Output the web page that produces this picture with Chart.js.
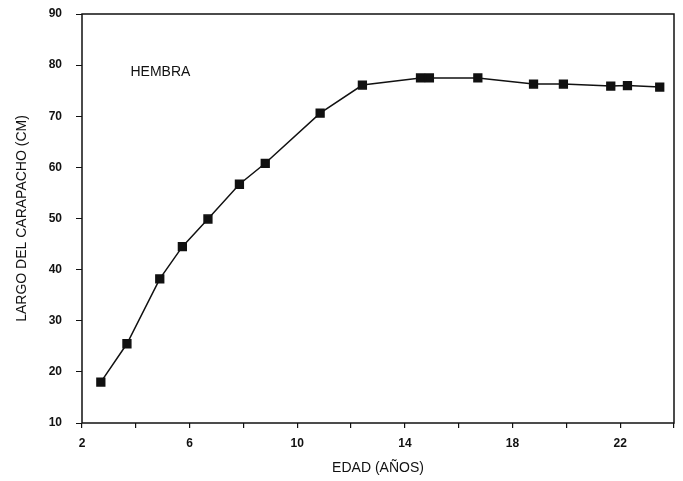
<!DOCTYPE html>
<html>
<head>
<meta charset="utf-8">
<script src="https://cdn.jsdelivr.net/npm/chart.js@4"></script>
<style>
  html, body { margin: 0; padding: 0; background: #fff; }
  #wrap { width: 683px; height: 481px; }
</style>
</head>
<body>
<div id="wrap"><canvas id="chartLargo"></canvas></div>
<script>
// datos
const edad = [2.7, 3.67, 4.89, 5.73, 6.68, 7.85, 8.81, 10.85, 12.42, 14.58, 14.91, 16.71, 18.78, 19.89, 21.65, 22.27, 23.47];
const largo = [18.0, 25.5, 38.2, 44.5, 49.9, 56.7, 60.8, 70.6, 76.1, 77.5, 77.5, 77.5, 76.3, 76.3, 75.9, 76.0, 75.7];
const xLabels = [2, 6, 10, 14, 18, 22];
const yTicks = [10, 20, 30, 40, 50, 60, 70, 80, 90];

const puntos = edad.map((x, i) => ({ x: x, y: largo[i] }));

// marco + texto HEMBRA
const marco = {
  id: 'marco',
  afterDatasetsDraw(chart) {
    const { ctx, chartArea: a, scales } = chart;
    ctx.save();
    ctx.strokeStyle = '#111';
    ctx.lineWidth = 1.5;
    ctx.strokeRect(a.left, a.top, a.right - a.left, a.bottom - a.top);
    ctx.fillStyle = '#111';
    ctx.font = '14px "Liberation Sans", Arial, sans-serif';
    ctx.textBaseline = 'middle';
    ctx.fillText('HEMBRA', scales.x.getPixelForValue(3.8), scales.y.getPixelForValue(78.7));
    ctx.restore();
  }
};

const ctx = document.getElementById('chartLargo');
new Chart(ctx, {
  type: 'scatter',
  data: {
    datasets: [{
      label: 'Hembra',
      data: puntos,
      showLine: true,
      borderColor: '#111',
      borderWidth: 1.5,
      backgroundColor: '#111',
      pointStyle: 'rect',
      pointRadius: 5.5,
      pointHoverRadius: 5.5,
      tension: 0
    }]
  },
  plugins: [marco],
  options: {
    responsive: true,
    maintainAspectRatio: false,
    animation: false,
    layout: { padding: { left: 0, right: 9, top: 14, bottom: 0 } },
    plugins: { legend: { display: false }, tooltip: { enabled: false } },
    scales: {
      x: {
        type: 'linear',
        min: 2,
        max: 24,
        afterFit(s) { s.height = 58; s.paddingLeft = 0; s.paddingRight = 0; },
        border: { display: false },
        grid: { drawOnChartArea: false, drawTicks: true, tickLength: 5, color: '#111', lineWidth: 1.2 },
        ticks: {
          stepSize: 2,
          padding: 8,
          autoSkip: false,
          maxRotation: 0,
          color: '#111',
          font: { family: '"Liberation Sans", Arial, sans-serif', size: 12, weight: 'bold' },
          callback: v => xLabels.includes(v) ? String(v) : ''
        },
        title: {
          display: true,
          text: 'EDAD (AÑOS)',
          color: '#111',
          font: { family: '"Liberation Sans", Arial, sans-serif', size: 14 },
          padding: { top: 0, bottom: 4 }
        }
      },
      y: {
        min: 10,
        max: 90,
        afterFit(s) { s.width = 82; s.paddingTop = 0; s.paddingBottom = 0; },
        border: { display: false },
        grid: { drawOnChartArea: false, drawTicks: true, tickLength: 6, color: '#111', lineWidth: 1 },
        afterBuildTicks(s) { s.ticks = yTicks.map(v => ({ value: v })); },
        ticks: {
          padding: 14,
          color: '#111',
          font: { family: '"Liberation Sans", Arial, sans-serif', size: 12, weight: 'bold' }
        },
        title: {
          display: true,
          text: 'LARGO DEL CARAPACHO (CM)',
          color: '#111',
          font: { family: '"Liberation Sans", Arial, sans-serif', size: 14 },
          padding: { top: 14, bottom: 0 }
        }
      }
    }
  }
});
</script>
</body>
</html>
